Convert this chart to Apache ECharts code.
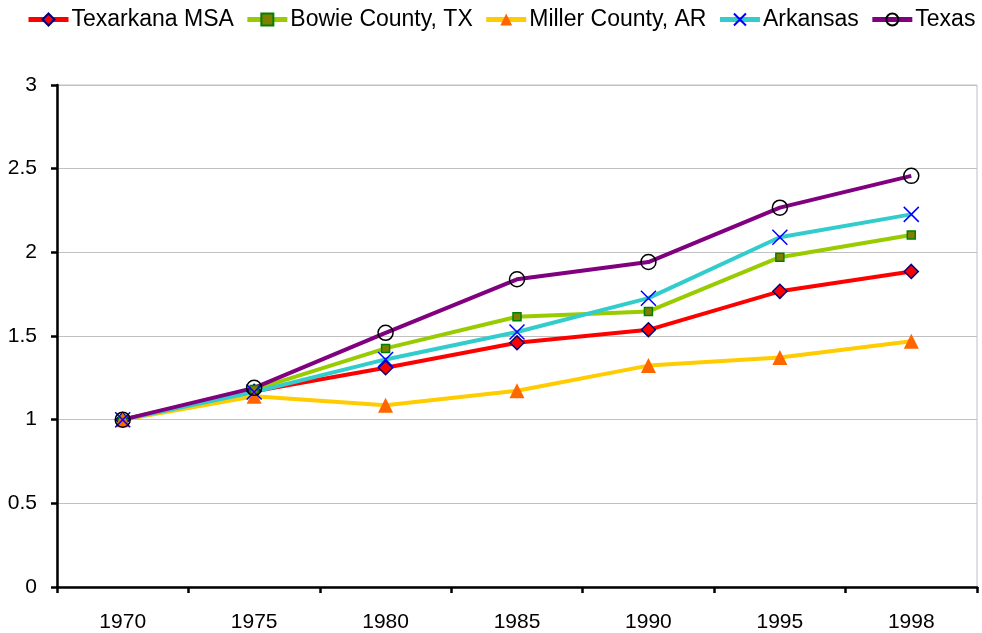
<!DOCTYPE html>
<html>
<head>
<meta charset="utf-8">
<script src="https://cdn.jsdelivr.net/npm/echarts@6/dist/echarts.min.js"></script>
<style>html,body{margin:0;padding:0;background:#fff}#c{width:982px;height:633px}</style>
</head>
<body>
<div id="c"></div>
<script>
var years = ['1970','1975','1980','1985','1990','1995','1998'];
var yTicks = [0, 0.5, 1, 1.5, 2, 2.5, 3];
var texarkana = [1.0, 1.17, 1.31, 1.46, 1.537, 1.767, 1.886];
var bowie     = [1.0, 1.18, 1.426, 1.615, 1.647, 1.971, 2.104];
var miller    = [1.0, 1.14, 1.086, 1.173, 1.323, 1.372, 1.469];
var arkansas  = [1.0, 1.165, 1.36, 1.524, 1.726, 2.09, 2.227];
var texas     = [1.0, 1.19, 1.519, 1.839, 1.942, 2.267, 2.457];

var chart = echarts.init(document.getElementById('c'));
var font = 'Liberation Sans, Arial, sans-serif';
function mk(name, data, lineColor, symbol, size, item) {
  return {
    name: name, type: 'line', data: data, symbol: symbol, symbolSize: size,
    showAllSymbol: true, animation: false,
    lineStyle: {color: lineColor, width: 4},
    itemStyle: item,
    emphasis: {disabled: true}
  };
}
chart.setOption({
  backgroundColor: '#fff',
  textStyle: {fontFamily: font},
  legend: {
    top: 8, left: 26, width: 955, padding: 0, itemWidth: 40, itemHeight: 15, itemGap: 11,
    lineStyle: {width: 5},
    textStyle: {fontSize: 23, color: '#000', fontFamily: font, padding: [0, 0, 0, -2]},
    data: ['Texarkana MSA','Bowie County, TX','Miller County, AR','Arkansas','Texas']
  },
  grid: {left: 57, right: 5, top: 85, bottom: 45, show: true, borderColor: '#c0c0c0', borderWidth: 1},
  xAxis: {
    type: 'category', data: years, boundaryGap: true,
    axisLine: {lineStyle: {color: '#000', width: 2.5}},
    axisTick: {show: true, length: 6, lineStyle: {color: '#000', width: 2.5}},
    axisLabel: {fontSize: 21, color: '#000', margin: 25, fontFamily: font},
    splitLine: {show: false}
  },
  yAxis: {
    type: 'value', min: 0, max: 3, interval: 0.5,
    axisLine: {show: true, lineStyle: {color: '#000', width: 2.5}},
    axisTick: {show: true, length: 6, lineStyle: {color: '#000', width: 2.5}},
    axisLabel: {fontSize: 21, color: '#000', margin: 20, fontFamily: font,
      formatter: function(v){ return yTicks.indexOf(v) >= 0 ? String(v) : ''; }},
    splitLine: {lineStyle: {color: '#c0c0c0', width: 1}}
  },
  series: [
    mk('Texarkana MSA', texarkana, '#ff0000', 'diamond', 14, {color: '#ff0000', borderColor: '#000080', borderWidth: 1.5}),
    mk('Bowie County, TX', bowie, '#99cc00', 'rect', 8, {color: '#808000', borderColor: '#008000', borderWidth: 1.5}),
    mk('Miller County, AR', miller, '#ffcc00', 'triangle', 15, {color: '#ff6600', borderWidth: 0}),
    mk('Arkansas', arkansas, '#33cccc', 'path://M0,0L10,10M10,0L0,10', 15, {color: 'rgba(0,0,0,0)', borderColor: '#0000ff', borderWidth: 1.5}),
    mk('Texas', texas, '#800080', 'circle', 15, {color: 'rgba(0,0,0,0)', borderColor: '#000000', borderWidth: 1.5})
  ]
});
</script>
</body>
</html>
